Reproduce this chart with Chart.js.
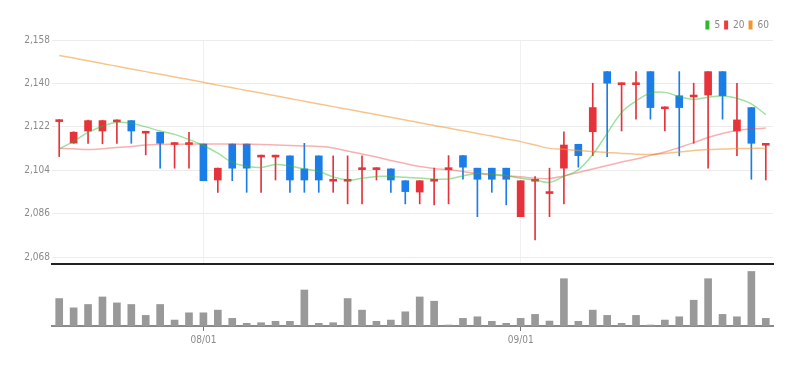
<!DOCTYPE html>
<html>
<head>
<meta charset="utf-8">
<title>Candle chart</title>
<script src="https://cdn.jsdelivr.net/npm/chart.js@4.4.1/dist/chart.umd.min.js"></script>
<style>
    html, body { margin: 0; padding: 0; background: #fff; }
    #wrap { position: relative; width: 807px; height: 367px; }
    #priceChart { position: absolute; left: 0; top: 0; }
    #volumeChart { position: absolute; left: 0; top: 266px; }
</style>
</head>
<body>
<div id="wrap">
    <canvas id="priceChart" width="807" height="272"></canvas>
    <canvas id="volumeChart" width="807" height="101"></canvas>
</div>
<script>
// trading days shown on the chart
const dates = [
    '07/18', '07/19', '07/20', '07/21', '07/22', '07/25', '07/26', '07/27', '07/28', '07/29',
    '08/01', '08/02', '08/03', '08/04', '08/05', '08/08', '08/09', '08/10', '08/11', '08/12',
    '08/16', '08/17', '08/18', '08/19', '08/22', '08/23', '08/24', '08/25', '08/26', '08/29',
    '08/30', '08/31', '09/01', '09/02', '09/05', '09/06', '09/07', '09/08', '09/09', '09/12',
    '09/13', '09/19', '09/20', '09/21', '09/22', '09/23', '09/26', '09/27', '09/28', '09/29'
];
const markedDates = ['08/01', '09/01'];

const opens = [
    2124.2, 2115.3, 2120.3, 2120.3, 2124.1, 2124.6, 2119.4, 2119.8, 2114.7, 2114.7,
    2114.9, 2100.0, 2114.9, 2114.9, 2109.5, 2109.5, 2110.0, 2104.6, 2110.0, 2099.5,
    2099.5, 2104.3, 2104.3, 2104.6, 2099.7, 2095.0, 2099.5, 2104.3, 2110.1, 2104.9,
    2104.9, 2104.9, 2084.8, 2099.5, 2094.4, 2104.9, 2114.8, 2120.0, 2144.9, 2139.5,
    2139.5, 2144.9, 2129.5, 2134.9, 2134.4, 2135.2, 2144.9, 2120.3, 2130.0, 2114.4
];
const highs = [
    2125.0, 2120.0, 2124.8, 2124.8, 2124.9, 2124.6, 2120.2, 2119.8, 2115.5, 2119.8,
    2114.9, 2104.9, 2114.9, 2114.9, 2110.3, 2110.3, 2110.0, 2115.2, 2110.0, 2110.0,
    2110.0, 2110.0, 2105.1, 2104.6, 2099.7, 2099.7, 2104.9, 2110.1, 2110.1, 2104.9,
    2104.9, 2104.9, 2099.7, 2101.4, 2104.9, 2120.0, 2114.8, 2140.1, 2144.9, 2140.3,
    2144.9, 2144.9, 2130.3, 2144.9, 2140.1, 2144.9, 2144.9, 2140.1, 2130.0, 2115.2
];
const lows = [
    2109.7, 2115.2, 2115.2, 2115.0, 2115.2, 2115.2, 2110.4, 2104.9, 2104.9, 2104.9,
    2099.7, 2094.9, 2099.7, 2094.9, 2094.9, 2100.0, 2094.9, 2094.9, 2094.9, 2094.9,
    2090.1, 2090.1, 2100.0, 2094.9, 2090.1, 2090.1, 2089.7, 2090.1, 2100.3, 2084.8,
    2094.9, 2089.7, 2084.8, 2075.2, 2084.8, 2090.1, 2105.3, 2110.1, 2109.7, 2120.3,
    2125.2, 2125.2, 2120.3, 2110.0, 2115.2, 2104.9, 2125.2, 2110.1, 2100.3, 2100.0
];
const closes = [
    2125.0, 2119.8, 2124.6, 2124.6, 2124.9, 2120.3, 2120.2, 2115.2, 2115.5, 2115.5,
    2099.7, 2104.9, 2104.9, 2104.9, 2110.3, 2110.3, 2100.0, 2100.0, 2100.0, 2100.3,
    2100.3, 2105.1, 2105.1, 2100.0, 2095.2, 2099.7, 2100.3, 2105.1, 2105.3, 2100.3,
    2100.3, 2100.3, 2099.7, 2100.3, 2095.2, 2114.5, 2110.1, 2130.0, 2140.1, 2140.3,
    2140.3, 2130.0, 2130.3, 2130.0, 2135.2, 2144.9, 2134.9, 2124.9, 2115.2, 2115.2
];
const volumes = [
    277, 183, 217, 293, 233, 217, 107, 217, 60, 133,
    133, 160, 77, 27, 33, 47, 47, 363, 27, 33,
    277, 160, 47, 60, 143, 293, 250, 10, 77, 93,
    47, 27, 77, 117, 50, 477, 47, 160, 107, 27,
    107, 10, 60, 93, 260, 477, 117, 93, 550, 77
];

// moving averages
const ma5 = [
    2112.9, 2116.0, 2119.7, 2122.3, 2123.9, 2123.5, 2122.0, 2120.3, 2118.9, 2116.8,
    2114.3, 2111.1, 2107.3, 2105.7, 2105.2, 2106.4, 2105.8, 2104.6, 2103.5, 2101.3,
    2100.0, 2100.7, 2101.5, 2101.5, 2101.1, 2100.8, 2100.4, 2100.4, 2101.7, 2102.7,
    2102.4, 2101.9, 2100.7, 2100.0, 2099.0, 2101.5, 2104.2, 2110.6, 2119.3, 2128.0,
    2132.7, 2136.0, 2136.3, 2134.5, 2133.4, 2134.3, 2134.8, 2133.9, 2131.5, 2127.1
];
const ma20 = [
    2113.1, 2112.9, 2112.6, 2112.9, 2113.5, 2113.9, 2114.5, 2114.7, 2114.8, 2114.9,
    2114.9, 2114.9, 2114.9, 2114.8, 2114.7, 2114.5, 2114.3, 2114.1, 2113.9, 2113.3,
    2112.0, 2110.8, 2109.5, 2108.1, 2106.8, 2105.6, 2104.8, 2104.2, 2103.5, 2102.7,
    2102.1, 2101.7, 2101.3, 2100.8, 2100.6, 2101.7, 2103.1, 2104.6, 2106.0, 2107.5,
    2108.7, 2110.2, 2111.6, 2113.5, 2115.5, 2117.6, 2119.3, 2120.5, 2121.1, 2121.5
];
const ma60 = [
    2151.6, 2150.5, 2149.4, 2148.3, 2147.1, 2146.0, 2144.9, 2143.8, 2142.7, 2141.6,
    2140.5, 2139.3, 2138.2, 2137.1, 2136.0, 2134.9, 2133.8, 2132.6, 2131.5, 2130.4,
    2129.3, 2128.2, 2127.1, 2126.0, 2124.9, 2123.7, 2122.6, 2121.5, 2120.4, 2119.3,
    2118.2, 2117.0, 2115.9, 2114.5, 2113.1, 2112.7, 2112.2, 2111.8, 2111.4, 2111.0,
    2110.7, 2110.6, 2111.0, 2111.6, 2112.2, 2112.6, 2112.8, 2113.0, 2113.1, 2113.1
];

const priceTicks = [2068, 2086, 2104, 2122, 2140, 2158];
const maLabels = ['5', '20', '60'];

const UP = '#e6333b';
const DOWN = '#1a7de8';
const LEGEND_COLORS = ['#2dbb2d', '#ee3b3b', '#f0962e'];
const LINE_COLORS = ['rgba(45, 187, 45, 0.45)', 'rgba(238, 59, 59, 0.4)', 'rgba(240, 150, 46, 0.55)'];
const FONT = "'Liberation Sans Narrow', 'DejaVu Sans Condensed', 'Roboto', sans-serif";

const candleColor = ctx => (closes[ctx.dataIndex] >= opens[ctx.dataIndex] ? UP : DOWN);
const isMarked = ctx => ctx.tick && markedDates.includes(dates[ctx.index]);

function initPriceChart() {
    const ctx = document.getElementById('priceChart').getContext('2d');
    const maSets = [ma5, ma20, ma60].map((values, i) => ({
        type: 'line',
        label: maLabels[i],
        data: values,
        borderColor: LINE_COLORS[i],
        borderWidth: 1.5,
        pointRadius: 0,
        tension: 0.4,
        fill: false,
        order: 0
    }));

    return new Chart(ctx, {
        data: {
            labels: dates,
            datasets: [
                ...maSets,
                {
                    type: 'bar',
                    label: 'body',
                    data: dates.map((d, i) => [opens[i], closes[i]]),
                    backgroundColor: candleColor,
                    barThickness: 7,
                    grouped: false,
                    order: 1
                },
                {
                    type: 'bar',
                    label: 'wick',
                    data: dates.map((d, i) => [lows[i], highs[i]]),
                    backgroundColor: candleColor,
                    barThickness: 1,
                    grouped: false,
                    order: 2
                }
            ]
        },
        options: {
            responsive: false,
            animation: false,
            layout: { padding: { left: 0, right: 34, top: 16, bottom: 2 } },
            plugins: {
                tooltip: { enabled: false },
                legend: {
                    position: 'top',
                    align: 'end',
                    labels: {
                        boxWidth: 4,
                        boxHeight: 9,
                        padding: 4,
                        color: '#888',
                        font: { family: FONT, size: 10 },
                        generateLabels: chart => maLabels.map((text, i) => ({
                            text,
                            fillStyle: LEGEND_COLORS[i],
                            strokeStyle: LEGEND_COLORS[i],
                            lineWidth: 0,
                            fontColor: '#888',
                            datasetIndex: i
                        }))
                    }
                }
            },
            scales: {
                x: {
                    offset: true,
                    afterFit: scale => {
                        scale.height = 0;
                    },
                    grid: {
                        offset: false,
                        color: ctx => (isMarked(ctx) ? '#f0f0f0' : 'transparent'),
                        drawTicks: false
                    },
                    border: { color: '#222', width: 2 },
                    ticks: { display: false, autoSkip: false }
                },
                y: {
                    min: 2065.2,
                    max: 2158,
                    afterBuildTicks: scale => {
                        scale.ticks = priceTicks.map(value => ({ value }));
                    },
                    afterFit: scale => {
                        scale.width = 52;
                    },
                    grid: { color: '#ececec', drawTicks: false },
                    border: { display: false },
                    ticks: {
                        padding: 2,
                        color: '#8a8a8a',
                        font: { family: FONT, size: 10 },
                        callback: v => v.toLocaleString('en-US')
                    }
                }
            }
        }
    });
}

function initVolumeChart() {
    const ctx = document.getElementById('volumeChart').getContext('2d');
    return new Chart(ctx, {
        type: 'bar',
        data: {
            labels: dates,
            datasets: [{
                label: 'volume',
                data: volumes,
                backgroundColor: '#999',
                barThickness: 7
            }]
        },
        options: {
            responsive: false,
            animation: false,
            layout: { padding: { left: 52, right: 34, top: 2, bottom: 18 } },
            plugins: {
                legend: { display: false },
                tooltip: { enabled: false }
            },
            scales: {
                x: {
                    grid: {
                        offset: false,
                        drawOnChartArea: false,
                        drawTicks: true,
                        tickLength: 5,
                        color: ctx => (isMarked(ctx) ? '#777' : 'transparent')
                    },
                    border: { color: '#8a8a8a', width: 2 },
                    ticks: {
                        autoSkip: false,
                        maxRotation: 0,
                        padding: 3,
                        color: '#8a8a8a',
                        font: { family: FONT, size: 10 },
                        callback: (v, i) => (markedDates.includes(dates[i]) ? dates[i] : '')
                    }
                },
                y: {
                    display: false,
                    min: 0,
                    max: 585
                }
            }
        }
    });
}

document.addEventListener('DOMContentLoaded', () => {
    window.priceChart = initPriceChart();
    window.volumeChart = initVolumeChart();
});
</script>
</body>
</html>
